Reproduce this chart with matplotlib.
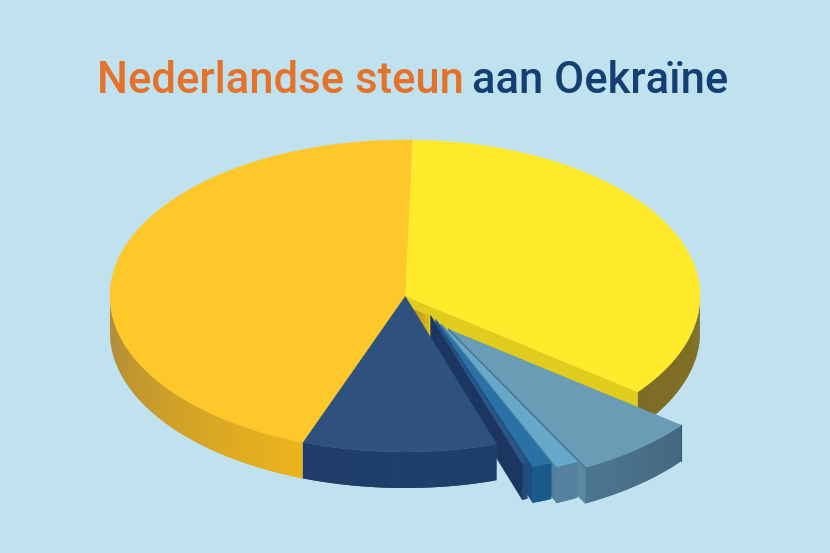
import numpy as np
import matplotlib
matplotlib.use("Agg")
import matplotlib.pyplot as plt
from matplotlib.collections import PolyCollection
from matplotlib.colors import to_rgb

# Data (percent of the total, clockwise from the top)
labels = ["geel", "grijsblauw", "lichtblauw", "middenblauw", "smal", "donkerblauw", "oranje"]
shares = [35.15, 6.8, 1.25, 1.08, 0.3, 10.67, 44.75]
explode = [0, 54.5, 45, 38.5, 32, 0, 0]

# Styles
top_colors = ["#ffea2b", "#6a9cb5", "#66a8c8", "#2a71a6", "#2f5586", "#2e517d", "#ffc82a"]
side_start = ["#8c7a22", "#44687e", "#54829e", "#185a8b", "#264a78", "#1f3f6b", "#ecb41b"]
side_end = ["#7d6c26", "#4c7690", "#54829e", "#185a8b", "#264a78", "#203e69", "#a8873a"]
face_colors = ["#e0cc1c", "#5b8aa7", "#4f7f9b", "#1c4f80", "#1b3660", "#1f3f6b", "#ecb41b"]
draw_order = [0, 1, 2, 3, 4, 5, 6]
BG = "#bfe2ee"
CX, CY, RX, RY, DEPTH = 405, 296, 295, 156, 36
START = 88.6
UX, UY = 0.80, 0.61

fig = plt.figure(figsize=(8.3, 5.53), dpi=100, facecolor=BG)
ax = fig.add_axes([0, 0, 1, 1])
ax.set_xlim(0, 830)
ax.set_ylim(553, 0)
ax.axis("off")

shares_arr = np.array(shares)
sweeps = shares_arr / shares_arr.sum() * 360
ends = START - np.cumsum(sweeps)
starts = ends + sweeps


def rim(cx, cy, a0, a1, n):
    t = np.radians(np.linspace(a0, a1, n))
    return np.column_stack([cx + RX * np.cos(t), cy - RY * np.sin(t)])


for i in draw_order:
    cx = CX + explode[i] * UX
    cy = CY + explode[i] * UY
    a0, a1 = starts[i], ends[i]
    n = max(int(abs(a0 - a1) * 2), 3)
    arc = rim(cx, cy, a0, a1, n)
    angs = np.linspace(a0, a1, n)
    down = np.array([0, DEPTH])

    # outer wall, shaded along the arc; each piece overlaps the next to hide seams
    polys, cols = [], []
    c0, c1 = np.array(to_rgb(side_start[i])), np.array(to_rgb(side_end[i]))
    if i == 6:  # shading only sets in towards the left of the wide slice
        f = np.clip(np.linspace(0, 1, n - 1) / 0.45, 0, 1)
    else:
        f = np.linspace(0, 1, n - 1)
    for k in range(n - 1):
        if np.sin(np.radians(angs[k])) > 0.02:
            continue
        j = min(k + 2, n - 1)
        polys.append(np.vstack([arc[k:j + 1], arc[k:j + 1][::-1] + down]))
        cols.append(tuple(c0 + (c1 - c0) * f[k]))
    ax.add_collection(PolyCollection(polys, facecolors=cols, edgecolors="none", linewidths=0, zorder=1))

    # cut face, visible only when the clockwise end lies lower right
    e = np.radians(a1)
    if np.sin(e) < 0 and np.cos(e) > 0:
        apex = np.array([cx, cy])
        tip = arc[-1]
        ax.fill(*np.array([apex, tip, tip + down, apex + down]).T, color=face_colors[i], lw=0.3, zorder=1)
        if i == 0:  # darker gold near the centre
            frac = np.linspace(0, 0.12, 8)
            gold = np.array(to_rgb("#c09a1e"))
            base = np.array(to_rgb(face_colors[i]))
            for k in range(7):
                p, q = apex + (tip - apex) * frac[k], apex + (tip - apex) * frac[k + 1]
                mix = gold + (base - gold) * (k / 6) ** 3
                ax.fill(*np.array([p + down * 0.28, q + down * 0.28, q + down, p + down]).T,
                        color=tuple(mix), lw=0.3, zorder=1)

    # top
    top = np.vstack([[cx, cy], arc])
    ax.fill(top[:, 0], top[:, 1], color=top_colors[i], lw=0.3, zorder=1)
    if i == 1:  # thin dark rims of the large blue slice
        ax.plot([cx, arc[-1, 0]], [cy, arc[-1, 1]], color="#3f6f8a", lw=0.8, zorder=1)
        ax.plot([arc[0, 0], arc[0, 0]], [arc[0, 1], arc[0, 1] + DEPTH], color="#2c5a80", lw=0.8, zorder=1)

# Title, two colours on one baseline
FS = 31.4
t1 = ax.text(96.5, 93, "Nederlandse steun", color="#e4722b", fontsize=FS, family="Roboto",
             weight="medium", ha="left", va="baseline")
t2 = ax.text(472, 93, "aan Oekraïne", color="#143f72", fontsize=FS, family="Roboto",
             weight="medium", ha="left", va="baseline")

fig.savefig("out.png", dpi=100, facecolor=BG)
